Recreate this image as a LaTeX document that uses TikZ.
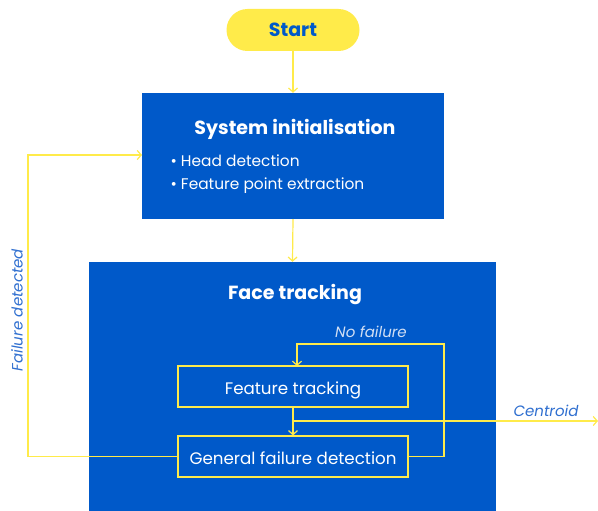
\documentclass[tikz,border=0pt]{standalone}
\usepackage{fontspec}
\setmainfont{Poppins}
\usetikzlibrary{arrows.meta}
\definecolor{boxblue}{HTML}{0059C9}
\definecolor{ylw}{HTML}{FFEB4A}
\definecolor{lbl}{HTML}{2F6FD0}
\definecolor{lightlbl}{HTML}{D2DFF4}
\tikzset{
  conn/.style={draw=ylw, line width=1.2pt},
  arr/.style={conn, -{Straight Barb[length=4pt,width=9pt]}},
  bigbox/.style={fill=boxblue, draw=none, inner sep=0pt},
  innerbox/.style={draw=ylw, line width=1.2pt, fill=boxblue, minimum width=230pt, minimum height=41pt, inner sep=0pt, text height=15pt, text depth=0pt, text=white, font=\fontsize{16.7}{20}\selectfont},
  title/.style={text=white, font=\bfseries\fontsize{19}{22}\selectfont},
  lab/.style={text=lbl, font=\itshape\fontsize{15}{18}\selectfont},
}
\begin{document}
\begin{tikzpicture}[x=1pt,y=-1pt]
\useasboundingbox (0,0) rectangle (598,511);
\fill[white] (0,0) rectangle (598,511);
% boxes
\node[bigbox, minimum width=302pt, minimum height=126pt] (sys) at (293,156) {};
\node[bigbox, minimum width=407pt, minimum height=250pt] (face) at (292.5,387) {};
\node[fill=ylw, rounded corners=21pt, minimum width=133pt, minimum height=42pt, text=boxblue, font=\bfseries\fontsize{19}{22}\selectfont] (start) at (293,30) {Start};
\node[title] (systitle) at (295,129) {System initialisation};
\node[text=white, anchor=west, align=left, font=\fontsize{15.4}{23}\selectfont] (bul) at (167,174.5) {• Head detection\\• Feature point extraction};
\node[title] (facetitle) at (295,295) {Face tracking};
\node[innerbox] (ft) at (293,386.5) {Feature tracking};
\node[innerbox] (gfd) at (293,456.5) {General failure detection};
% coordinates
\coordinate (c1) at (293,421);
\coordinate (cend) at (598,421);
\coordinate (nf1) at (444,456.5);
\coordinate (nf2) at (444,344);
\coordinate (nf3) at (297,344);
\coordinate (nf4) at (297,366);
\coordinate (fd1) at (28,456.5);
\coordinate (fd2) at (28,155);
\coordinate (fd3) at (142,155);
% connectors
\draw[arr] (start.south) -- (sys.north);
\draw[arr] (sys.south) -- (face.north);
\draw[arr] (ft.south) -- (gfd.north);
\draw[arr] (c1) -- (cend);
\draw[arr] (gfd.east) -- (nf1) -- (nf2) -- (nf3) -- (nf4);
\draw[arr] (gfd.west) -- (fd1) -- (fd2) -- (fd3);
% labels
\node[lab] (centroid) at (546,411) {Centroid};
\node[lab, text=lightlbl] (nofail) at (371,332) {No failure};
\node[lab, rotate=90] (faildet) at (17,310) {Failure detected};
\end{tikzpicture}
\end{document}
